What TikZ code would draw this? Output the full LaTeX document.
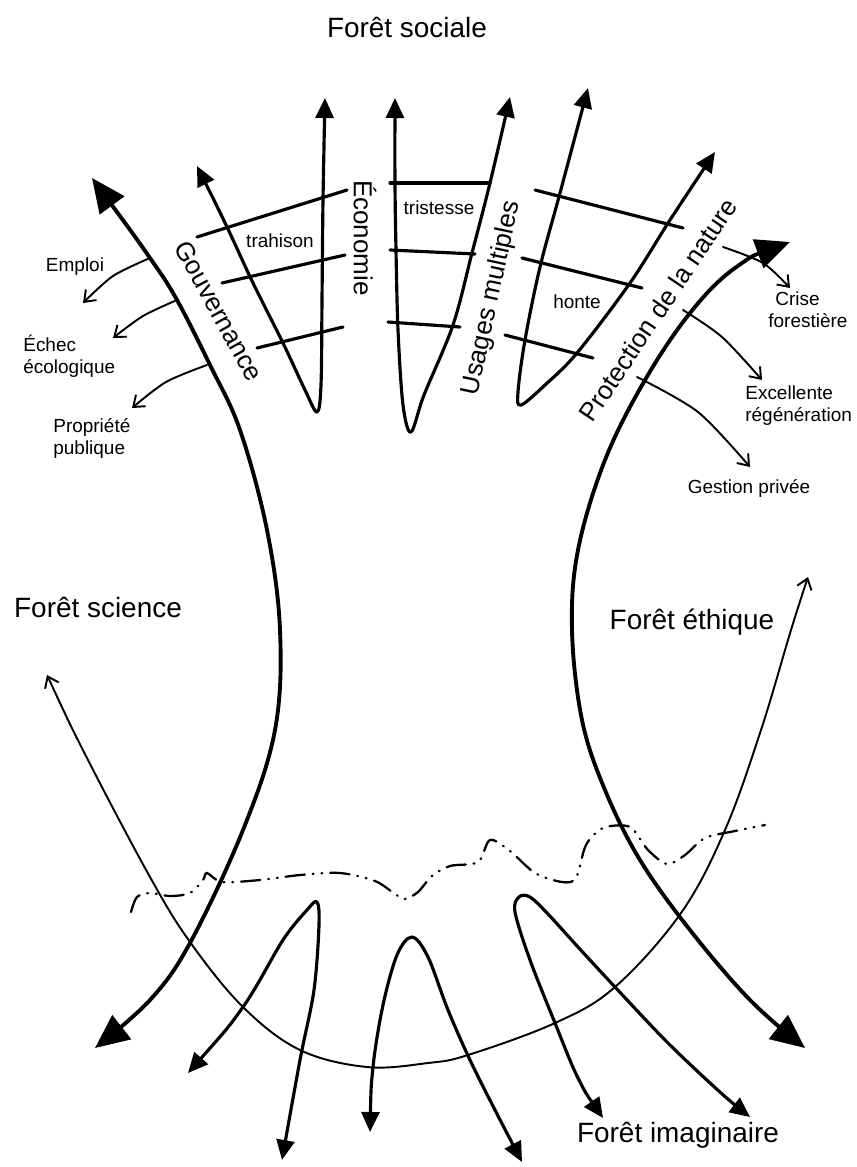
\documentclass[tikz,border=0pt]{standalone}
\usepackage{fontspec}
\setmainfont{Liberation Sans}
\usetikzlibrary{arrows.meta}
\tikzset{
 thickline/.style={line width=2.2pt, line cap=round, line join=round},
 midline/.style={line width=1.8pt, line cap=round, line join=round},
 thinline/.style={line width=1.1pt, line cap=round, line join=round},
 bigtip/.tip={Triangle[length=0.68cm,width=0.6cm]},
 medtip/.tip={Triangle[length=0.4cm,width=0.36cm]},
 opentip/.tip={Straight Barb[length=0.2cm,width=0.3cm]},
 biglabel/.style={font=\fontsize{15.9}{19}\selectfont, inner sep=0pt},
 rotlabel/.style={font=\fontsize{14.8}{18}\selectfont, inner sep=0pt},
 smalllabel/.style={font=\fontsize{10.8}{12.5}\selectfont, align=left, inner sep=0pt},
 dashdotdot/.style={line width=1.3pt, line cap=round, dash pattern=on 11pt off 4.5pt on 0.5pt off 4.5pt on 0.5pt off 4.5pt},
}
\begin{document}
\begin{tikzpicture}[x=0.02cm,y=-0.02cm]
\useasboundingbox (0,0) rectangle (856,1167);

% ---------- end points ----------
\coordinate (gTop) at (92,178);
\coordinate (gBot) at (95,1048);
\coordinate (rTop) at (790,242);
\coordinate (rBot) at (805,1048);
\coordinate (sTop) at (47,675);
\coordinate (eTop) at (808,577);
\coordinate (ecoL) at (197,166);
\coordinate (ecoR) at (325,98);
\coordinate (usL) at (395,98);
\coordinate (usR) at (510,97);
\coordinate (prL) at (588,88);
\coordinate (prR) at (715,152);

% ---------- big arcs ----------
\draw[thickline, bigtip-bigtip] plot[smooth, tension=0.6] coordinates
 {(gTop) (150,258) (177,300) (210,365) (240,430) (267,530) (280,630) (275,730) (243,830) (190,943) (150,1000) (gBot)};
\draw[thickline, bigtip-bigtip] plot[smooth, tension=0.6] coordinates
 {(rTop) (735,268) (690,313) (645,380) (605,460) (578,550) (572,630) (582,720) (605,790) (640,860) (690,930) (750,1000) (rBot)};

% ---------- thin U (science / ethique) ----------
\draw[thinline, opentip-opentip] plot[smooth, tension=0.6] coordinates
 {(sTop) (88,760) (150,877) (190,942) (243,1007) (300,1050) (367,1067) (428,1063) (468,1055) (555,1023) (615,987) (681,913) (725,830) (761,730) (791,630) (eTop)};

% ---------- top U shapes ----------
\draw[midline, medtip-medtip] plot[smooth, tension=0.55] coordinates
 {(ecoL) (227,227) (253,283) (283,343) (305,390) (317,412) (321,385) (322,300) (323,200) (ecoR)};
\draw[midline, medtip-medtip] plot[smooth, tension=0.55] coordinates
 {(usL) (395,183) (396,250) (398,330) (403,405) (411,432) (424,395) (453,325) (472,253) (490,183) (usR)};
\draw[midline, medtip-medtip] plot[smooth, tension=0.55] coordinates
 {(prL) (560,193) (540,267) (525,340) (518,392) (521,405) (545,385) (577,353) (630,283) (670,220) (prR)};

% ---------- ribs ----------
\coordinate (l1a) at (197,237); \coordinate (l1b) at (347,190);
\coordinate (l2a) at (222,283); \coordinate (l2b) at (345,255);
\coordinate (l3a) at (257,348); \coordinate (l3b) at (343,327);
\coordinate (m1a) at (390,183); \coordinate (m1b) at (490,183);
\coordinate (m2a) at (390,250); \coordinate (m2b) at (475,254);
\coordinate (m3a) at (388,322); \coordinate (m3b) at (460,327);
\coordinate (r1a) at (535,190); \coordinate (r1b) at (683,228);
\coordinate (r2a) at (522,258); \coordinate (r2b) at (642,288);
\coordinate (r3a) at (505,335); \coordinate (r3b) at (593,358);
\foreach \p in {l1,l2,l3,m1,m2,m3,r1,r2,r3}{
 \draw[midline] (\p a) -- (\p b);
}

% ---------- small side arrows ----------
\coordinate (emA) at (150,258); \coordinate (emB) at (83,303);
\coordinate (ecA) at (177,300); \coordinate (ecB) at (113,338);
\coordinate (ppA) at (207,365); \coordinate (ppB) at (132,408);
\coordinate (crA) at (723,247); \coordinate (crB) at (790,288);
\coordinate (exA) at (683,310); \coordinate (exB) at (762,380);
\coordinate (geA) at (637,377); \coordinate (geB) at (750,467);
\draw[thinline, -opentip] plot[smooth] coordinates {(emA) (113,276) (emB)};
\draw[thinline, -opentip] plot[smooth] coordinates {(ecA) (143,316) (ecB)};
\draw[thinline, -opentip] plot[smooth] coordinates {(ppA) (166,382) (ppB)};
\draw[thinline, -opentip] plot[smooth] coordinates {(crA) (763,263) (crB)};
\draw[thinline, -opentip] plot[smooth] coordinates {(exA) (722,337) (exB)};
\draw[thinline, -opentip] plot[smooth] coordinates {(geA) (698,412) (geB)};

% ---------- bottom inverted V shapes ----------
\coordinate (b1a) at (188,1073); \coordinate (b1b) at (282,1160);
\coordinate (b2a) at (370,1132); \coordinate (b2b) at (522,1162);
\coordinate (b3a) at (603,1118); \coordinate (b3b) at (750,1117);
\draw[midline, medtip-medtip] plot[smooth, tension=0.55] coordinates
 {(b1a) (243,1007) (283,940) (307,910) (317,902) (319,925) (314,990) (300,1060) (b1b)};
\draw[midline, medtip-medtip] plot[smooth, tension=0.55] coordinates
 {(b2a) (373,1067) (383,1005) (397,955) (412,937) (428,957) (448,1010) (470,1060) (495,1110) (b2b)};
\draw[midline, medtip-medtip] plot[smooth, tension=0.55] coordinates
 {(b3a) (578,1078) (555,1023) (530,960) (515,912) (519,897) (530,897) (548,914) (578,947) (615,987) (668,1043) (721,1093) (b3b)};

% ---------- dash dot boundary ----------
\draw[dashdotdot] plot[smooth, tension=0.5] coordinates
 {(131,912) (137,897) (150,893) (170,896) (190,893) (203,880) (207,873) (222,882) (260,880) (300,875) (340,873) (375,881) (395,894) (405,899) (418,892) (432,876) (450,866) (478,862) (490,840) (510,851) (535,873) (562,882) (576,878) (586,845) (603,828) (630,827) (648,850) (667,864) (685,855) (705,838) (735,831) (765,825)};

% ---------- labels ----------
\node[biglabel] (fsoc) at (407,27) {Forêt sociale};
\node[biglabel] (fsci) at (98,607) {Forêt science};
\node[biglabel] (feth) at (692,622) {Forêt éthique};
\node[biglabel] (fima) at (678,1135) {Forêt imaginaire};

\node[rotlabel, rotate=-90] (eco) at (365,238) {Économie};
\node[rotlabel, rotate=-61] (gouv) at (219,311) {Gouvernance};
\node[rotlabel, rotate=78] (usag) at (492,298) {Usages multiples};
\node[rotlabel, rotate=56] (prot) at (658,310) {Protection de la nature};

\node[smalllabel] (trah) at (280,241) {trahison};
\node[smalllabel] (tris) at (439,208) {tristesse};
\node[smalllabel] (hont) at (577,302) {honte};

\node[smalllabel, anchor=center] (empl) at (75,267) {Emploi};
\node[smalllabel, anchor=west] (eche) at (23,356) {Échec\\écologique};
\node[smalllabel, anchor=west] (prop) at (53,438) {Propriété\\publique};
\node[smalllabel, anchor=west] (cris) at (768,310) {\hspace*{4pt}Crise\\forestière};
\node[smalllabel, anchor=west] (exce) at (745,406) {Excellente\\régénération};
\node[smalllabel] (gest) at (749,488) {Gestion privée};
\end{tikzpicture}
\end{document}
